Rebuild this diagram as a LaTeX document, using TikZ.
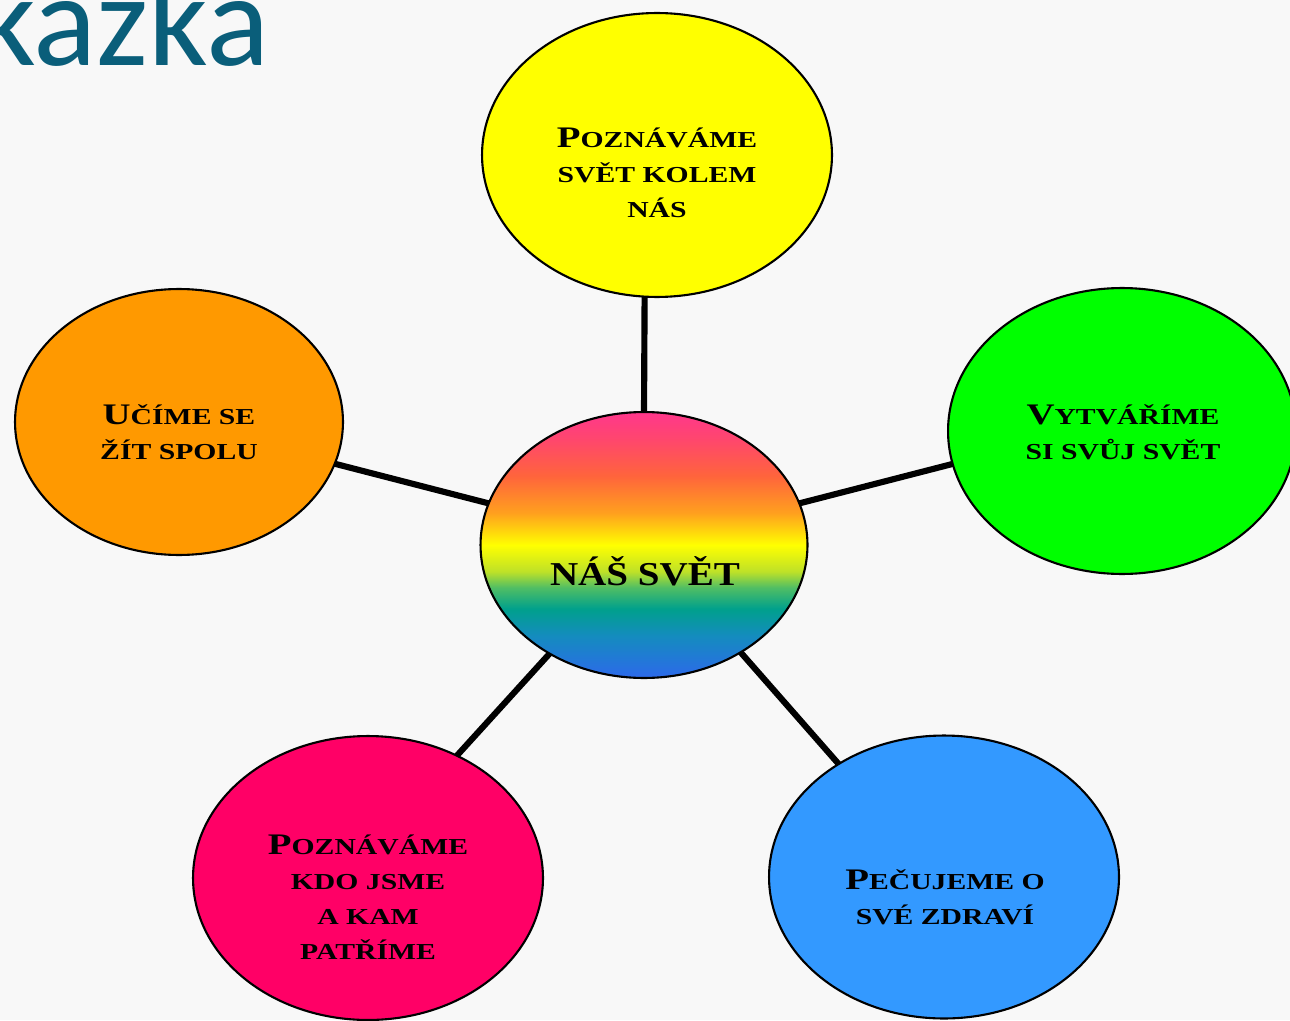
\documentclass[tikz,border=0pt]{standalone}
\usepackage{fontspec}
\usetikzlibrary{shapes.geometric}
\newfontfamily\bubblefont[FakeStretch=1.3]{Liberation Serif}
\newfontfamily\hubfont[FakeStretch=1.17]{Liberation Serif}
\newfontfamily\titlefont{Carlito}
\newcommand\capfirst[2]{{\fontsize{17}{20}\selectfont #1}#2}
\definecolor{titleteal}{RGB}{10,94,122}
\definecolor{bgpaper}{RGB}{248,248,248}
\definecolor{bubyellow}{RGB}{255,255,0}
\definecolor{buborange}{RGB}{255,153,0}
\definecolor{bubgreen}{RGB}{0,255,0}
\definecolor{bubpink}{RGB}{255,0,102}
\definecolor{bubblue}{RGB}{51,153,255}
\definecolor{hubblue}{RGB}{45,105,235}
\definecolor{hubsea}{RGB}{20,140,190}
\definecolor{hubteal}{RGB}{0,160,140}
\definecolor{hubgreen}{RGB}{80,190,100}
\definecolor{hublime}{RGB}{190,225,40}
\definecolor{hubyellow}{RGB}{255,255,0}
\definecolor{hubamber}{RGB}{255,160,30}
\definecolor{hubcoral}{RGB}{255,100,60}
\definecolor{hubrose}{RGB}{255,70,110}
\definecolor{hubpink}{RGB}{255,55,140}
\pgfdeclareverticalshading{rainbow}{100bp}{color(0bp)=(hubblue); color(25bp)=(hubblue);
  color(33bp)=(hubsea); color(38bp)=(hubteal); color(42bp)=(hubgreen); color(45bp)=(hublime);
  color(50bp)=(hubyellow); color(56bp)=(hubamber); color(63bp)=(hubcoral); color(70bp)=(hubrose);
  color(75bp)=(hubpink); color(100bp)=(hubpink)}

\begin{document}
\begin{tikzpicture}[x=0.02cm, y=-0.02cm,
    bubble/.style={ellipse, draw=black, line width=1.2pt, inner sep=0pt, outer sep=0pt,
      minimum width=7cm, minimum height=5.68cm},
    bubbletext/.style={align=center, inner sep=0pt, font=\bubblefont\bfseries\fontsize{13}{20}\selectfont},
    spoke/.style={line width=3.5pt}]
    \useasboundingbox (0,0) rectangle (1290,1020);
    \clip (0,0) rectangle (1290,1020);
    \fill[bgpaper] (0,0) rectangle (1290,1020);

    \node[font=\titlefont\fontsize{75}{80}\selectfont, text=titleteal, anchor=base east, inner sep=0pt] (title) at (270,66) {kazka};

    % the five topics round the centre
    \node[bubble, fill=bubyellow] (world) at (657,155) {};
    \node[bubble, fill=buborange, minimum width=6.56cm, minimum height=5.32cm] (together) at (179,422) {};
    \node[bubble, fill=bubgreen, minimum width=6.96cm, minimum height=5.72cm] (create) at (1122,431) {};
    \node[bubble, fill=bubpink] (belong) at (368,878) {};
    \node[bubble, fill=bubblue, minimum height=5.66cm] (health) at (944,877) {};
    \node[bubble, shade, shading=rainbow, minimum width=6.54cm, minimum height=5.32cm] (hub) at (644,545) {};

    \draw[spoke] (world.265) -- (hub.90);
    \draw[spoke] (together.-15) -- (hub.165);
    \draw[spoke] (hub.15) -- (create.191);
    \draw[spoke] (hub.229) -- (belong.54);
    \draw[spoke] (hub.312) -- (health.133);

    \node[bubbletext] (world-text) at (657,173) {\capfirst{P}{OZNÁVÁME}\\SVĚT KOLEM\\NÁS};
    \node[bubbletext] (together-text) at (179,432) {\capfirst{U}{ČÍME SE}\\ŽÍT SPOLU};
    \node[bubbletext] (create-text) at (1123,432) {\capfirst{V}{YTVÁŘÍME}\\SI SVŮJ SVĚT};
    \node[bubbletext] (belong-text) at (368,897) {\capfirst{P}{OZNÁVÁME}\\KDO JSME\\A KAM\\PATŘÍME};
    \node[bubbletext] (health-text) at (945,897) {\capfirst{P}{EČUJEME O}\\SVÉ ZDRAVÍ};
    \node[font=\hubfont\bfseries\fontsize{19}{22}\selectfont, inner sep=0pt, anchor=base] (hub-text) at (645,585) {NÁŠ SVĚT};
\end{tikzpicture}
\end{document}
